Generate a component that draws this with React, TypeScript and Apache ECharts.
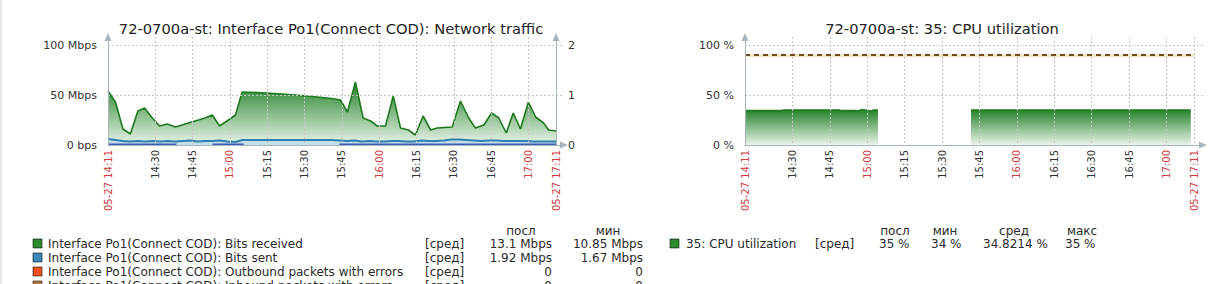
import React, { useEffect, useRef } from "react";
import * as echarts from "echarts";

const FONT = "DejaVu Sans";

// ---- time axis (minutes after 14:11) ----
const xTicks = [0, 19, 34, 49, 64, 79, 94, 109, 124, 139, 154, 169, 180];
const xTickLabels = ["05-27 14:11", "14:30", "14:45", "15:00", "15:15", "15:30", "15:45", "16:00", "16:15", "16:30", "16:45", "17:00", "05-27 17:11"];
const xTickRed = [true, false, false, true, false, false, false, true, false, false, false, true, true];

// ---- y ticks ----
const netTicks = [0, 50, 100];
const netTickLabels = ["0 bps", "50 Mbps", "100 Mbps"];
const errTicks = [0, 1, 2];
const errTickLabels = ["0", "1", "2"];
const cpuTicks = [0, 50, 100];
const cpuTickLabels = ["0 %", "50 %", "100 %"];

// ---- network traffic series (minute, Mbps) ----
const receivedMbps = [
  [0, 54], [3, 43], [6, 16], [9, 11], [12, 34], [14.7, 37], [17.8, 27], [20.7, 19], [23.8, 21], [27.1, 18],
  [31, 21], [35, 24], [39, 27], [41.9, 30], [44.8, 19], [48.4, 25], [51.2, 30], [53.9, 53], [60, 52.5], [70, 51],
  [80, 49], [90, 46.5], [93.4, 45], [96.2, 33], [99.4, 63], [102.5, 27], [105.5, 24], [108.2, 19], [111.5, 19], [114.6, 49],
  [117.5, 17], [120.7, 15], [123.5, 10], [126.6, 29], [129.6, 15], [132.3, 17], [135, 17.5], [138.3, 18], [141.6, 44], [144.9, 27],
  [147.6, 17], [151, 20], [154.1, 32], [157, 27], [160, 12], [162.8, 32], [165.7, 16], [168.9, 43], [171.8, 28], [175, 22],
  [177, 15], [180, 14],
];
const sentMbps = [
  [0, 6], [3, 5], [6, 4], [9, 3.5], [12, 4], [15, 3.5], [18, 4], [21, 3.5], [24, 4], [27, 3.5], [30, 4], [33, 4.5],
  [36, 3.5], [39, 4], [42, 4], [45, 4.5], [48, 3.5], [51, 3], [54, 5], [60, 5], [70, 5], [80, 5], [90, 5], [93, 4.5],
  [96, 4], [99, 4.5], [102, 3.5], [105, 4], [108, 3.5], [111, 3.5], [114, 4], [117, 4], [120, 3.5], [123, 3.5], [126, 4.5],
  [129, 4], [132, 4], [135, 4.5], [138, 5.5], [141, 5.5], [144, 5], [147, 4.5], [150, 4], [153, 4.5], [156, 4.5], [159, 4],
  [162, 4], [165, 4], [168, 4], [171, 3.5], [174, 3.5], [177, 3.5], [180, 3.5],
];
const sentLowMbps = [
  [0, 0.8], [27.5, 0.8], [28, null], [42, 0.8], [54.5, 0.8], [55, null], [93, 0.8], [180, 0.8],
];
const outErrors = [[0, 0], [180, 0]];
const inErrors = [[0, 0], [180, 0]];

// ---- CPU series (minute, %) ----
const cpuPercent = [
  [0, 34.4], [3, 34.4], [6, 34.4], [9, 34.4], [12, 34.4], [15, 34.4], [15.3, 35], [20, 35], [25, 35], [30, 35], [35, 35],
  [38, 35], [38.3, 34.4], [44, 34.4], [45.5, 34], [46.5, 35.2], [48, 35], [49.5, 34.6], [50.5, 33.8], [51.5, 35], [53.3, 35],
  [54, null],
  [90.6, 35], [100, 35], [110, 35], [120, 35], [130, 35], [140, 35], [150, 35], [160, 35], [170, 35], [178.7, 35],
];
const cpuThreshold = 90;

// ---- legends ----
const netLegendNames = [
  "Interface Po1(Connect COD): Bits received",
  "Interface Po1(Connect COD): Bits sent",
  "Interface Po1(Connect COD): Outbound packets with errors",
  "Interface Po1(Connect COD): Inbound packets with errors",
];
const netLegendColors = ["#2e8b2e", "#3b88ba", "#f2501f", "#b87a3c"];
const netLegendFunc = ["[сред]", "[сред]", "[сред]", "[сред]"];
const netLegendLast = ["13.1 Mbps", "1.92 Mbps", "0", "0"];
const netLegendMin = ["10.85 Mbps", "1.67 Mbps", "0", "0"];
const netLegendHeaders = ["посл", "мин"];

const cpuLegendName = "35: CPU utilization";
const cpuLegendColor = "#2e8b2e";
const cpuLegendFunc = "[сред]";
const cpuLegendHeaders = ["посл", "мин", "сред", "макс"];
const cpuLegendStats = ["35 %", "34 %", "34.8214 %", "35 %"];

const AXIS_COLOR = "#a9b4bd";
const GRID_COLOR = "#c6c6c6";
const TEXT = "#2a2a2a";
const LEG_FS = 12;

function xAxis(gridIndex: number, max: number) {
  return {
    type: "value",
    gridIndex,
    min: 0,
    max,
    z: 5,
    axisLine: { show: true, lineStyle: { color: AXIS_COLOR, width: 1 }, symbol: ["none", "triangle"], symbolSize: [7, 8] },
    axisTick: { show: false, customValues: xTicks },
    axisLabel: {
      customValues: xTicks,
      rotate: 90,
      margin: 5,
      fontSize: 10,
      fontFamily: FONT,
      formatter: (v: number) => {
        const i = xTicks.indexOf(v);
        if (i < 0) return "";
        return `{${xTickRed[i] ? "r" : "k"}|${xTickLabels[i]}}`;
      },
      rich: {
        r: { color: "#d23c3c", fontSize: 10, fontFamily: FONT },
        k: { color: "#333", fontSize: 10, fontFamily: FONT },
      },
    },
    splitLine: { show: true, lineStyle: { color: GRID_COLOR, type: [2, 2], width: 1 } },
  };
}

function yAxis(gridIndex: number, max: number, ticks: number[], labels: string[], position: string, extra: any = {}) {
  return {
    type: "value",
    gridIndex,
    min: 0,
    max,
    position,
    z: 5,
    axisLine: { show: true, lineStyle: { color: AXIS_COLOR, width: 1 }, symbol: ["none", "triangle"], symbolSize: [7, 8] },
    axisTick: { show: false, customValues: ticks },
    axisLabel: {
      customValues: ticks,
      fontSize: 11,
      fontFamily: FONT,
      color: "#333",
      margin: 11,
      formatter: (v: number) => {
        const i = ticks.indexOf(v);
        return i < 0 ? "" : labels[i];
      },
    },
    splitLine: { show: true, lineStyle: { color: GRID_COLOR, type: [2, 2], width: 1 } },
    ...extra,
  };
}

function greenGradient() {
  return new echarts.graphic.LinearGradient(0, 0, 0, 1, [
    { offset: 0, color: "#24822a" },
    { offset: 1, color: "#eaf5ea" },
  ]);
}

export default function App() {
  const ref = useRef<HTMLDivElement>(null);

  useEffect(() => {
    if (!ref.current) return;
    const chart = echarts.init(ref.current, undefined, { renderer: "svg" });

    const graphic: any[] = [];
    // left page border
    graphic.push({ type: "rect", shape: { x: 0, y: 0, width: 2, height: 284 }, style: { fill: "#e6e6e6" }, silent: true });
    // titles
    graphic.push({
      type: "text", x: 331, y: 28,
      style: { text: "72-0700a-st: Interface Po1(Connect COD): Network traffic", fontSize: 14.7, fontFamily: FONT, fill: "#222", align: "center", verticalAlign: "middle" },
    });
    graphic.push({
      type: "text", x: 942, y: 28,
      style: { text: "72-0700a-st: 35: CPU utilization", fontSize: 14.7, fontFamily: FONT, fill: "#222", align: "center", verticalAlign: "middle" },
    });

    // network legend
    const rowY = [244, 258, 272, 286];
    const netHeaderX = [521, 608];
    netLegendHeaders.forEach((h, i) => {
      graphic.push({ type: "text", x: netHeaderX[i], y: 231, style: { text: h, fontSize: LEG_FS, fontFamily: FONT, fill: TEXT, align: "center", verticalAlign: "middle" } });
    });
    netLegendNames.forEach((name, i) => {
      const y = rowY[i];
      graphic.push({ type: "rect", shape: { x: 33, y: y - 5, width: 9, height: 9 }, style: { fill: netLegendColors[i], stroke: "rgba(0,0,0,0.55)", lineWidth: 1 } });
      graphic.push({ type: "text", x: 48, y, style: { text: name, fontSize: LEG_FS, fontFamily: FONT, fill: TEXT, verticalAlign: "middle" } });
      graphic.push({ type: "text", x: 425, y, style: { text: netLegendFunc[i], fontSize: LEG_FS, fontFamily: FONT, fill: TEXT, verticalAlign: "middle" } });
      graphic.push({ type: "text", x: 552, y, style: { text: netLegendLast[i], fontSize: LEG_FS, fontFamily: FONT, fill: TEXT, align: "right", verticalAlign: "middle" } });
      graphic.push({ type: "text", x: 643, y, style: { text: netLegendMin[i], fontSize: LEG_FS, fontFamily: FONT, fill: TEXT, align: "right", verticalAlign: "middle" } });
    });

    // cpu legend
    const cpuHeaderX = [895, 945, 1014, 1082];
    const cpuStatX = [879, 931, 983, 1065];
    cpuLegendHeaders.forEach((h, i) => {
      graphic.push({ type: "text", x: cpuHeaderX[i], y: 231, style: { text: h, fontSize: LEG_FS, fontFamily: FONT, fill: TEXT, align: "center", verticalAlign: "middle" } });
    });
    graphic.push({ type: "rect", shape: { x: 670, y: 239, width: 9, height: 9 }, style: { fill: cpuLegendColor, stroke: "rgba(0,0,0,0.55)", lineWidth: 1 } });
    graphic.push({ type: "text", x: 686, y: 244, style: { text: cpuLegendName, fontSize: LEG_FS, fontFamily: FONT, fill: TEXT, verticalAlign: "middle" } });
    graphic.push({ type: "text", x: 815, y: 244, style: { text: cpuLegendFunc, fontSize: LEG_FS, fontFamily: FONT, fill: TEXT, verticalAlign: "middle" } });
    cpuLegendStats.forEach((s, i) => {
      graphic.push({ type: "text", x: cpuStatX[i], y: 244, style: { text: s, fontSize: LEG_FS, fontFamily: FONT, fill: TEXT, verticalAlign: "middle" } });
    });

    chart.setOption({
      animation: false,
      backgroundColor: "#ffffff",
      textStyle: { fontFamily: FONT },
      grid: [
        { left: 108, top: 37, width: 456, height: 108, containLabel: false },
        { left: 745, top: 37, width: 458, height: 108, containLabel: false },
      ],
      xAxis: [xAxis(0, 183.2), xAxis(1, 183.6)],
      yAxis: [
        yAxis(0, 108, netTicks, netTickLabels, "left"),
        yAxis(0, 2.16, errTicks, errTickLabels, "right", { offset: -8, splitLine: { show: false }, axisLabel: { customValues: errTicks, fontSize: 11, fontFamily: FONT, color: "#333", margin: 12, formatter: (v: number) => { const i = errTicks.indexOf(v); return i < 0 ? "" : errTickLabels[i]; } } }),
        yAxis(1, 108, cpuTicks, cpuTickLabels, "left"),
      ],
      series: [
        {
          name: netLegendNames[2], type: "line", xAxisIndex: 0, yAxisIndex: 1, data: outErrors, symbol: "none",
          lineStyle: { color: netLegendColors[2], width: 1 }, z: 1,
        },
        {
          name: netLegendNames[3], type: "line", xAxisIndex: 0, yAxisIndex: 1, data: inErrors, symbol: "none",
          lineStyle: { color: netLegendColors[3], width: 1 }, z: 1,
        },
        {
          name: netLegendNames[0], type: "line", xAxisIndex: 0, yAxisIndex: 0, data: receivedMbps, symbol: "none",
          lineStyle: { color: "#1d7a1d", width: 1.6 }, areaStyle: { color: greenGradient(), opacity: 1 }, z: 2,
        },
        {
          name: netLegendNames[1], type: "line", xAxisIndex: 0, yAxisIndex: 0, data: sentMbps, symbol: "none",
          lineStyle: { color: "#2f7fb2", width: 2 }, areaStyle: { color: "#c3dfe9", opacity: 1 }, z: 3,
        },
        {
          name: "sent-low", type: "line", xAxisIndex: 0, yAxisIndex: 0, data: sentLowMbps, symbol: "none",
          lineStyle: { color: "#3a5cb8", width: 1.5 }, z: 4, connectNulls: false,
        },
        {
          name: cpuLegendName, type: "line", xAxisIndex: 1, yAxisIndex: 2, data: cpuPercent, symbol: "none",
          connectNulls: false,
          lineStyle: { color: "#1d7a1d", width: 1.6 }, areaStyle: { color: greenGradient(), opacity: 1 }, z: 2,
          markLine: {
            silent: true, symbol: "none", label: { show: false },
            data: [
              [
                { coord: [0, cpuThreshold], lineStyle: { color: "#efe4c6", width: 3, type: "solid" } },
                { coord: [180, cpuThreshold] },
              ],
              [
                { coord: [0, cpuThreshold], lineStyle: { color: "#6e4a1e", width: 2, type: [5, 4] } },
                { coord: [180, cpuThreshold] },
              ],
            ],
          },
        },
      ],
      graphic,
    });

    return () => chart.dispose();
  }, []);

  return (
    <div
      ref={ref}
      style={{ position: "absolute", left: 0, top: 0, width: 1222, height: 284, background: "#fff" }}
    />
  );
}
